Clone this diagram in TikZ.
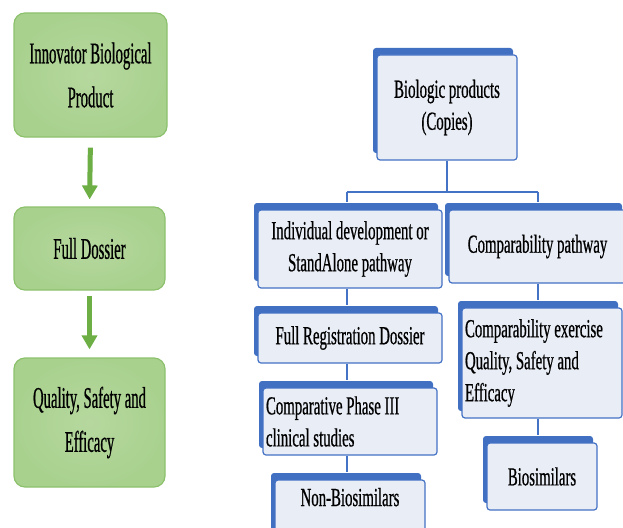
\documentclass[tikz,border=0pt]{standalone}
\usepackage{fontspec}
\setmainfont{Liberation Serif}
\newfontfamily\leftfont[FakeStretch=0.49,FakeBold=0.6]{Liberation Serif}
\newfontfamily\rightfont[FakeStretch=0.57,FakeBold=0.6]{Liberation Serif}
\usetikzlibrary{shadows,arrows.meta,calc}
\definecolor{gfill}{HTML}{A9D18E}
\definecolor{gedge}{HTML}{8CC16C}
\definecolor{garrow}{HTML}{6DAE45}
\definecolor{bfill}{HTML}{E9EDF6}
\definecolor{bedge}{HTML}{4472C4}
\definecolor{bshadow}{HTML}{4170C2}
\tikzset{
  greenbox/.style={draw=gedge, line width=1.2pt, rounded corners=11pt,
    inner color=gfill!85!white, outer color=gfill,
    font=\leftfont\fontsize{30}{44}\selectfont, align=center, inner sep=0pt},
  garr/.style={draw=garrow, line width=5pt, -{Triangle[width=15pt,length=14pt]}},
  bluebox/.style={draw=bedge, line width=1.2pt, fill=bfill, rounded corners=3pt,
    general shadow={fill=bshadow, shadow xshift=-4pt, shadow yshift=7pt},
    font=\rightfont\fontsize{26}{32}\selectfont, inner sep=0pt},
  conn/.style={draw=bedge, line width=1.2pt}
}
\begin{document}
\begin{tikzpicture}[x=1pt,y=-1pt]
\clip (0,0) rectangle (623,527);
\fill[white] (0,0) rectangle (623,527);
% left column
\node[greenbox, minimum width=153pt, minimum height=124pt] (inn) at (90.5,75) {Innovator Biological\\Product};
\node[greenbox, minimum width=151pt, minimum height=83pt] (fd) at (89.5,248.5) {Full Dossier};
\node[greenbox, minimum width=151pt, minimum height=129pt] (qse) at (89.5,422.5) {Quality, Safety and\\Efficacy};
\draw[garr, shorten <=10pt, shorten >=7pt] (inn.south) -- (fd.north);
\draw[garr, shorten <=5pt, shorten >=8pt] (fd.south) -- (qse.north);
% right part
\node[bluebox, minimum width=140pt, minimum height=105pt, align=center] (bio) at (447,107.5) {Biologic products\\(Copies)};
\node[bluebox, minimum width=184pt, minimum height=78pt, align=center] (ind) at (350,249) {Individual development or\\StandAlone pathway};
\node[bluebox, minimum width=177pt, minimum height=73pt, align=center] (cmp) at (537.5,246.5) {Comparability pathway};
\node[bluebox, minimum width=184pt, minimum height=50pt, align=center] (full) at (350,338) {Full Registration Dossier};
\node[bluebox, minimum width=174pt, minimum height=67pt, text width=168pt, align=flush left] (ph3) at (350,421.5) {Comparative Phase III\\clinical studies};
\node[bluebox, minimum width=150pt, minimum height=60pt, align=center] (non) at (350,510) {\raisebox{26pt}{Non-Biosimilars}};
\node[bluebox, minimum width=160pt, minimum height=110pt, text width=154pt, align=flush left] (exer) at (542,363) {\raisebox{-10pt}{\parbox{154pt}{Comparability exercise\\Quality, Safety and\\Efficacy}}};
\node[bluebox, minimum width=110pt, minimum height=67pt, align=center] (bios) at (542,476.5) {Biosimilars};
% connectors
\coordinate (jl) at (347,192);
\coordinate (jr) at (538,192);
\draw[conn] (bio.south) -- (bio.south |- jl);
\draw[conn] (jl) -- (jr);
\draw[conn, shorten >=7pt] (jl) -- (jl |- ind.north);
\draw[conn, shorten >=7pt] (jr) -- (jr |- cmp.north);
\draw[conn, shorten >=7pt] (ind.south -| jl) -- (full.north -| jl);
\draw[conn, shorten >=7pt] (full.south -| jl) -- (ph3.north -| jl);
\draw[conn, shorten >=7pt] (ph3.south -| jl) -- (non.north -| jl);
\draw[conn, shorten >=7pt] (cmp.south -| jr) -- (exer.north -| jr);
\draw[conn, shorten >=7pt] (exer.south -| jr) -- (bios.north -| jr);
\end{tikzpicture}
\end{document}
